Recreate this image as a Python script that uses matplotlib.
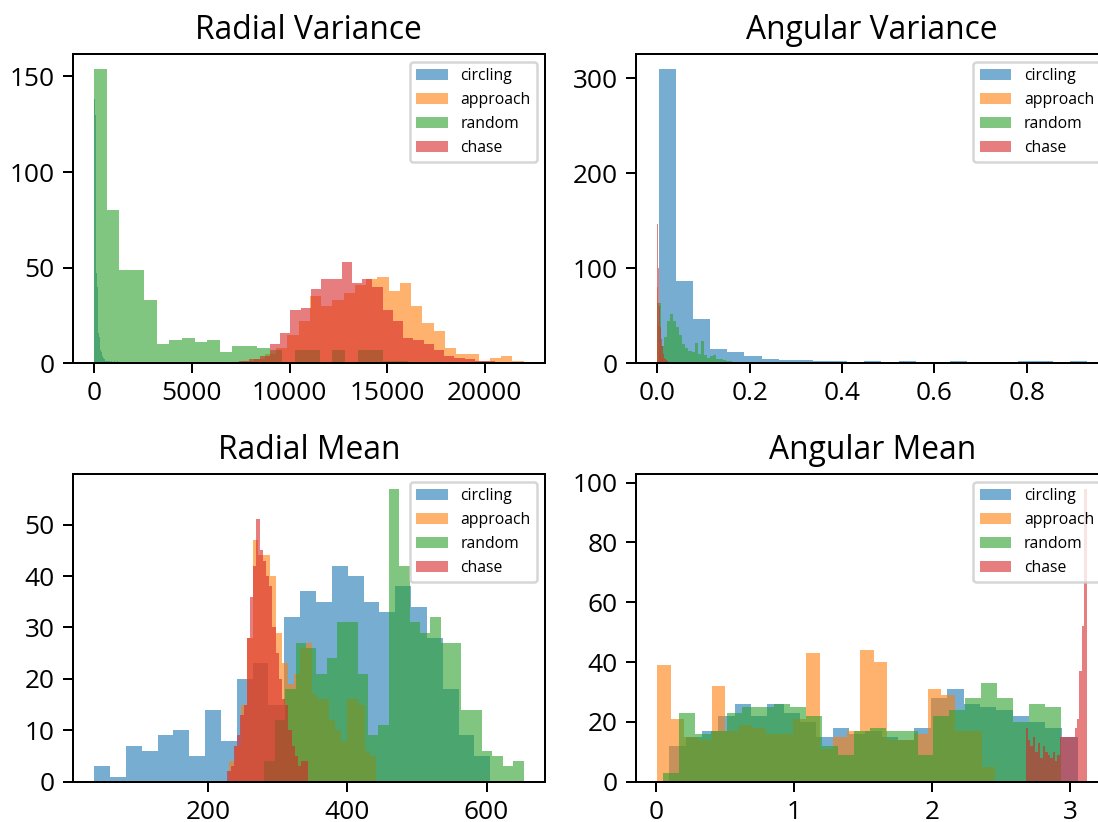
import numpy as np
import matplotlib
matplotlib.use("Agg")
import matplotlib.pyplot as plt
from matplotlib.ticker import MultipleLocator

plt.rcParams['font.family'] = ['Open Sans', 'DejaVu Sans']

labels = ["circling", "approach", "random", "chase"]

# ---------- Radial Variance ----------
rv_circling_range = (0, 1200)
rv_circling = [138, 130, 47, 40, 16, 14, 7, 6, 4, 3, 2, 2, 1, 1, 1, 1, 1, 0, 1, 0, 0, 1, 0, 0, 1]
rv_approach_range = (7590, 21977)
rv_approach = [1, 2, 5, 8, 15, 22, 35, 30, 33, 37, 41, 44, 45, 38, 42, 30, 21, 17, 8, 5, 5, 1, 3, 4, 1]
rv_random_range = (0, 16050)
rv_random = [154, 80, 49, 49, 33, 10, 12, 13, 11, 12, 6, 9, 9, 8, 7, 0, 7, 7, 0, 7, 0, 7, 7, 1, 1]
rv_chase_range = (7426, 20530)
rv_chase = [1, 2, 4, 10, 16, 28, 29, 39, 44, 44, 53, 42, 44, 40, 28, 22, 13, 12, 10, 7, 4, 3, 2, 1, 1]

# ---------- Angular Variance ----------
av_circling_range = (0.003, 0.930)
av_circling = [310, 87, 47, 15, 12, 8, 5, 3, 3, 2, 2, 0, 2, 0, 2, 0, 0, 2, 0, 0, 0, 2, 2, 0, 2]
av_approach_range = (0.0, 0.02)
av_approach = [80, 60, 40, 30, 22, 18, 14, 12, 10, 8, 7, 6, 5, 4, 3, 3, 2, 2, 2, 1, 1, 1, 1, 0, 1]
av_random_range = (0.0, 0.168)
av_random = [63, 18, 28, 45, 52, 45, 38, 30, 20, 16, 13, 12, 21, 10, 23, 9, 6, 8, 9, 5, 4, 3, 2, 2, 1]
av_chase_range = (0.0, 0.025)
av_chase = [147, 147, 100, 100, 60, 45, 38, 30, 26, 21, 18, 14, 12, 10, 8, 6, 5, 4, 3, 3, 2, 2, 1, 1, 1]

# ---------- Radial Mean ----------
rm_circling_range = (36.6, 605.3)
rm_circling = [3, 1, 7, 6, 9, 10, 5, 14, 8, 20, 23, 15, 32, 37, 35, 42, 40, 35, 33, 38, 34, 28, 18, 9, 5]
rm_approach_range = (230.2, 441.7)
rm_approach = [4, 7, 15, 28, 47, 44, 44, 40, 29, 23, 19, 21, 26, 27, 17, 16, 16, 12, 10, 8, 16, 16, 15, 6, 5]
rm_random_range = (281, 653)
rm_random = [4, 12, 18, 27, 26, 21, 24, 31, 31, 21, 9, 11, 57, 42, 31, 29, 32, 27, 27, 14, 14, 6, 5, 3, 4]
rm_chase_range = (228, 343)
rm_chase = [2, 3, 7, 9, 13, 15, 28, 36, 42, 51, 45, 43, 40, 38, 30, 25, 20, 16, 15, 10, 7, 5, 3, 4, 4]

# ---------- Angular Mean ----------
am_circling_range = (0.095, 3.058)
am_circling = [12, 15, 17, 22, 26, 22, 26, 23, 20, 15, 18, 16, 17, 15, 14, 18, 28, 31, 26, 25, 24, 22, 20, 18, 15]
am_approach_range = (0.010, 2.459)
am_approach = [39, 21, 15, 14, 32, 17, 19, 18, 16, 16, 21, 43, 11, 15, 17, 44, 40, 14, 14, 16, 31, 29, 17, 17, 5]
am_random_range = (0.049, 2.933)
am_random = [3, 23, 16, 17, 23, 25, 25, 26, 25, 22, 12, 9, 17, 18, 17, 17, 9, 22, 24, 28, 33, 28, 20, 26, 25]
am_chase_range = (2.678, 3.122)
am_chase = [18, 14, 12, 15, 10, 13, 8, 12, 10, 9, 8, 10, 7, 9, 15, 15, 15, 15, 15, 15, 18, 21, 37, 52, 98]

panels = [
    ("Radial Variance", [(rv_circling_range, rv_circling), (rv_approach_range, rv_approach),
                         (rv_random_range, rv_random), (rv_chase_range, rv_chase)], 5000, 50),
    ("Angular Variance", [(av_circling_range, av_circling), (av_approach_range, av_approach),
                          (av_random_range, av_random), (av_chase_range, av_chase)], 0.2, 100),
    ("Radial Mean", [(rm_circling_range, rm_circling), (rm_approach_range, rm_approach),
                     (rm_random_range, rm_random), (rm_chase_range, rm_chase)], 200, 10),
    ("Angular Mean", [(am_circling_range, am_circling), (am_approach_range, am_approach),
                      (am_random_range, am_random), (am_chase_range, am_chase)], 1, 20),
]

W, H = 1098, 822
fig = plt.figure(figsize=(W / 180, H / 180), dpi=180)

axw = 472.3 / W
rects = [
    (72.7 / W, (H - 363.3) / H, axw, 309.3 / H),
    (636.0 / W, (H - 363.3) / H, axw, 309.3 / H),
    (72.7 / W, (H - 781.7) / H, axw, 307.7 / H),
    (636.0 / W, (H - 781.7) / H, axw, 307.7 / H),
]

colors = ["C0", "C1", "C2", "C3"]
for (title, series, xstep, ystep), rect in zip(panels, rects):
    ax = fig.add_axes(rect)
    for (rng, counts), lab, col in zip(series, labels, colors):
        counts = np.asarray(counts, dtype=float)
        edges = np.linspace(rng[0], rng[1], len(counts) + 1)
        ax.hist(edges[:-1], bins=edges, weights=counts, alpha=0.6, color=col, label=lab)
    ax.set_title(title, fontsize=12.7)
    ax.xaxis.set_major_locator(MultipleLocator(xstep))
    ax.yaxis.set_major_locator(MultipleLocator(ystep))
    ax.tick_params(labelsize=10.5, length=4, pad=3.2)
    ax.legend(loc="upper right", fontsize=6.3)

fig.savefig("out.png", dpi=180)
